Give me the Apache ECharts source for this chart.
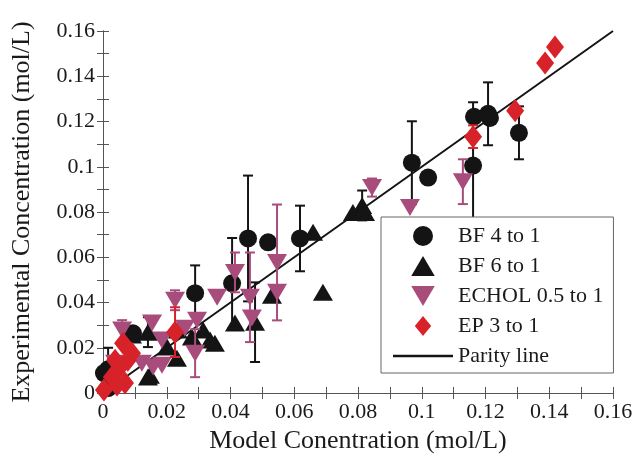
<!DOCTYPE html>
<html>
<head>
<meta charset="utf-8">
<script src="https://cdn.jsdelivr.net/npm/echarts@6/dist/echarts.min.js"></script>
<style>html,body{margin:0;padding:0;background:#fff;}#c{width:643px;height:461px;}</style>
</head>
<body>
<div id="c"></div>
<script>
// [model x, experimental y, y error (0 = none)]
const bf4 = [
  [0.1164,0.1221,0],[0.1208,0.1234,0.0139],[0.1214,0.1216,0],[0.1305,0.1150,0.0117],
  [0.1161,0.1005,0.028],[0.0969,0.1018,0.0183],[0.1020,0.0952,0],[0.0618,0.0683,0.0145],
  [0.0518,0.0666,0],[0.0455,0.0683,0.0278],[0.0405,0.0485,0.02],[0.0289,0.0441,0.0123],
  [0.0094,0.0264,0],[0.0003,0.0088,0],[0.0016,0.0022,0],[0.0016,0.0105,0.0095]
];
const bf6 = [
  [0.0822,0.0798,0],[0.0813,0.0829,0.0066],[0.0784,0.0798,0],[0.0659,0.0710,0],
  [0.0690,0.0445,0],[0.0530,0.0432,0],[0.0477,0.0313,0.0176],[0.0414,0.0309,0],
  [0.0314,0.0278,0],[0.0336,0.0234,0],[0.0351,0.0220,0],[0.0235,0.0278,0],
  [0.0279,0.0247,0],[0.0232,0.0154,0],[0.0141,0.0269,0.0066],[0.0201,0.0203,0],
  [0.0141,0.0071,0],[0.0091,0.0256,0],[0.0147,0.0079,0]
];
const echol = [
  [0.1129,0.0934,0.0099],[0.0963,0.0820,0],[0.0844,0.0908,0.004],[0.0546,0.0577,0.0256],
  [0.0546,0.0445,0],[0.0414,0.0533,0.0088],[0.0461,0.0423,0.0198],[0.0467,0.0331,0],
  [0.0358,0.0423,0],[0.0295,0.0322,0],[0.0289,0.0176,0.0106],[0.0226,0.0410,0.0044],
  [0.0257,0.0286,0],[0.0185,0.0234,0],[0.0154,0.0309,0],[0.0122,0.0132,0],
  [0.0157,0.0115,0],[0.0060,0.0278,0.0044],[0.0038,0.0132,0],[0.0185,0.0123,0]
];
const ep = [
  [0.1418,0.1529,0],[0.1387,0.1459,0],[0.1293,0.1247,0.002],[0.1161,0.1133,0.005],
  [0.0226,0.0269,0.011],[0.0063,0.0220,0],[0.0038,0.0145,0],[0.0078,0.0145,0],
  [0.0028,0.0071,0],[0.0003,0.0013,0],[0.0069,0.0044,0],[0.0053,0.0115,0],
  [0.0091,0.0176,0],[0.0044,0.0035,0]
];
const parity = [[0,0],[0.16,0.16]];
const axisMin = 0, axisMax = 0.16, axisStep = 0.02;
const seriesNames = ['BF 4 to 1', 'BF 6 to 1', 'ECHOL 0.5 to 1', 'EP 3 to 1', 'Parity line'];

const FONT = 'Liberation Serif';
const BLACK = '#141414', PURPLE = '#a84c7c', RED = '#d8222a';
const TRI_UP = 'path://M10,0L20,17L0,17Z';
const TRI_DOWN = 'path://M0,0L20,0L10,17Z';
const DIAMOND = 'path://M9,0L18,11L9,22L0,11Z';
const LINE_ICON = 'path://M0,0L60,0L60,2.5L0,2.5Z';

function errSeries(data, color, z) {
  return {
    type: 'custom', z: z, silent: true,
    data: data.filter(d => d[2] > 0).map(d => [d[0], d[1] - d[2], d[1] + d[2]]),
    encode: { x: 0, y: [1, 2] },
    renderItem: function (params, api) {
      const x = api.value(0);
      const lo = api.coord([x, api.value(1)]);
      const hi = api.coord([x, api.value(2)]);
      const w = 5;
      const st = { stroke: color, lineWidth: 2 };
      return { type: 'group', children: [
        { type: 'line', shape: { x1: lo[0], y1: lo[1], x2: hi[0], y2: hi[1] }, style: st },
        { type: 'line', shape: { x1: lo[0]-w, y1: lo[1], x2: lo[0]+w, y2: lo[1] }, style: st },
        { type: 'line', shape: { x1: hi[0]-w, y1: hi[1], x2: hi[0]+w, y2: hi[1] }, style: st }
      ]};
    }
  };
}
function pts(data) { return data.map(d => [d[0], d[1]]); }

const lbl = v => String(+v.toFixed(2));
function mkAxis(pos, showLabel, name, nameGap) {
  return {
    type: 'value', min: axisMin, max: axisMax, interval: axisStep, position: pos,
    name: name, nameLocation: 'middle', nameGap: nameGap,
    nameTextStyle: { fontFamily: FONT, fontSize: 26, color: '#1a1a1a' },
    axisLine: { show: true, lineStyle: { color: '#555', width: 1 } },
    axisTick: { show: true, inside: true, length: 6, lineStyle: { color: '#555' } },
    minorTick: { show: true, splitNumber: 2, length: 6, lineStyle: { color: '#555' } },
    splitLine: { show: false },
    axisLabel: { show: showLabel, fontFamily: FONT, fontSize: 22, color: '#1a1a1a', margin: 8, formatter: lbl }
  };
}

const chart = echarts.init(document.getElementById('c'), null, { renderer: 'canvas' });
chart.setOption({
  animation: false,
  backgroundColor: '#fff',
  grid: { left: 103, right: 30, top: 31, bottom: 68 },
  xAxis: [mkAxis('bottom', true, 'Model Conentration (mol/L)', 31), mkAxis('top', false, '', 0)],
  yAxis: [mkAxis('left', true, 'Experimental Concentration (mol/L)', 68), mkAxis('right', false, '', 0)],
  legend: {
    orient: 'vertical', left: 381, top: 217,
    itemWidth: 60, itemHeight: 20, itemGap: 8,
    padding: [8, 10, 6, 12],
    backgroundColor: '#fff', borderColor: '#666', borderWidth: 1,
    textStyle: { fontFamily: FONT, fontSize: 22, color: '#1a1a1a' },
    data: [
      { name: seriesNames[0], icon: 'circle' },
      { name: seriesNames[1], icon: TRI_UP },
      { name: seriesNames[2], icon: TRI_DOWN },
      { name: seriesNames[3], icon: DIAMOND },
      { name: seriesNames[4], icon: LINE_ICON }
    ]
  },
  series: [
    { type: 'line', name: seriesNames[4], data: parity, symbol: 'none', z: 1,
      lineStyle: { color: BLACK, width: 2 }, itemStyle: { color: BLACK } },
    errSeries(bf4, BLACK, 2),
    { type: 'scatter', name: seriesNames[0], data: pts(bf4), symbol: 'circle', symbolSize: 18, z: 3,
      itemStyle: { color: BLACK, opacity: 1 } },
    errSeries(bf6, BLACK, 4),
    { type: 'scatter', name: seriesNames[1], data: pts(bf6), symbol: TRI_UP, symbolSize: [20, 17], z: 5,
      itemStyle: { color: BLACK, opacity: 1 } },
    errSeries(echol, PURPLE, 6),
    { type: 'scatter', name: seriesNames[2], data: pts(echol), symbol: TRI_DOWN, symbolSize: [20, 17], z: 7,
      itemStyle: { color: PURPLE, opacity: 1 } },
    errSeries(ep, RED, 8),
    { type: 'scatter', name: seriesNames[3], data: pts(ep), symbol: DIAMOND, symbolSize: [18, 23], z: 9,
      itemStyle: { color: RED, opacity: 1 } }
  ]
});
</script>
</body>
</html>
